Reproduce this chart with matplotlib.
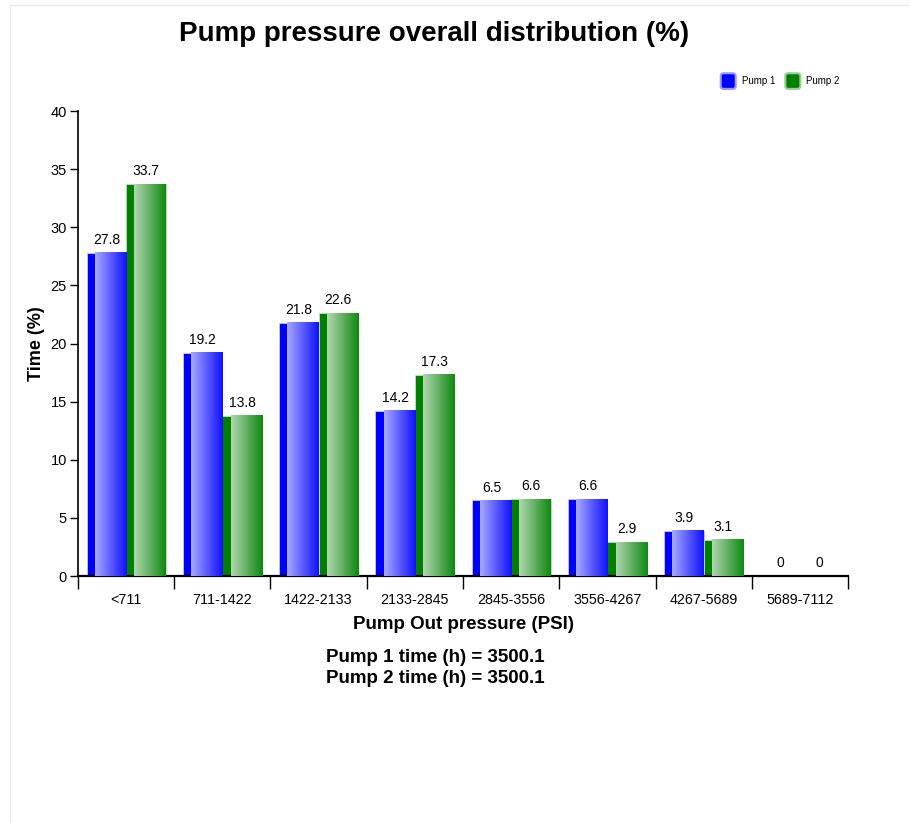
import numpy as np
import matplotlib.pyplot as plt
from matplotlib.colors import LinearSegmentedColormap
from matplotlib.patches import FancyBboxPatch, Rectangle

plt.rcParams['font.family'] = ['Liberation Sans', 'DejaVu Sans']

categories = ['<711', '711-1422', '1422-2133', '2133-2845', '2845-3556',
              '3556-4267', '4267-5689', '5689-7112']
pump1 = [27.8, 19.2, 21.8, 14.2, 6.5, 6.6, 3.9, 0]
pump2 = [33.7, 13.8, 22.6, 17.3, 6.6, 2.9, 3.1, 0]
series_names = ['Pump 1', 'Pump 2']
pump_hours = [3500.1, 3500.1]


def gradient_bars(ax, rects, dark, light):
    """Paint a solid strip on the left and a light-to-dark gradient on the rest."""
    cmap = LinearSegmentedColormap.from_list('g', [light, dark])
    grad = np.linspace(0, 1, 64).reshape(1, -1)
    for r in rects:
        x0, w, h = r.get_x(), r.get_width(), r.get_height()
        if h <= 0:
            continue
        solid = w * 0.21
        ax.imshow(grad, cmap=cmap, aspect='auto', interpolation='bilinear',
                  extent=[x0 + solid, x0 + w, 0, h], zorder=3)


fig = plt.figure(figsize=(9.1, 8.23), dpi=100)
# faint page frame
fig.patches.append(Rectangle((0.011, -0.01), 1.0, 1.004, transform=fig.transFigure,
                             fill=False, edgecolor='#ececec', linewidth=1))
ax = fig.add_axes([0.0857, 0.3001, 0.8462, 0.5650])

x = np.arange(len(categories))
w = 0.41
b1 = ax.bar(x - w / 2, pump1, w, color='#0000ff', edgecolor='#c8c8ff',
            linewidth=0.6, zorder=2)
b2 = ax.bar(x + w / 2, pump2, w, color='#008000', edgecolor='#c0e0c0',
            linewidth=0.6, zorder=2)
gradient_bars(ax, b1, '#1010ff', '#a8a8ff')
gradient_bars(ax, b2, '#108a10', '#b0d6b0')

for rects, vals in ((b1, pump1), (b2, pump2)):
    for r, v in zip(rects, vals):
        ax.text(r.get_x() + r.get_width() / 2, v + 0.5, f'{v:g}',
                ha='center', va='bottom', fontsize=10)

ax.set_xlim(-0.5, len(categories) - 0.5)
ax.set_ylim(0, 40)
ax.set_yticks(np.arange(0, 41, 5))
ax.set_xticks(np.arange(-0.5, len(categories), 1.0))
ax.set_xticklabels([])
ax.set_xticks(x, minor=True)
ax.set_xticklabels(categories, minor=True, fontsize=10.3)
ax.tick_params(axis='x', which='minor', length=0, pad=12)
ax.tick_params(axis='x', which='major', length=9, direction='out', width=1)
ax.tick_params(axis='y', length=6, direction='out', labelsize=10.5, width=1, pad=2)

for s in ('top', 'right'):
    ax.spines[s].set_visible(False)
ax.spines['left'].set_linewidth(1.2)
ax.spines['bottom'].set_linewidth(1.6)

ax.set_ylabel('Time (%)', fontsize=13, fontweight='bold', labelpad=4)
ax.set_xlabel('Pump Out pressure (PSI)', fontsize=13.5, fontweight='bold', labelpad=7)

fig.text(0.477, 0.959, 'Pump pressure overall distribution (%)', ha='center',
         va='center', fontsize=20, fontweight='bold')
fig.text(0.478, 0.2005, f'{series_names[0]} time (h) = {pump_hours[0]}', ha='center',
         va='center', fontsize=13.5, fontweight='bold')
fig.text(0.478, 0.176, f'{series_names[1]} time (h) = {pump_hours[1]}', ha='center',
         va='center', fontsize=13.5, fontweight='bold')

# legend
for i, (name, dark, light) in enumerate(zip(series_names,
                                            ['#0000ff', '#008000'],
                                            ['#9999ff', '#99cc99'])):
    lx = 0.792 + i * 0.071
    ly = 0.9015
    box = FancyBboxPatch((lx, ly - 0.0095), 0.0165, 0.019,
                         boxstyle='round,pad=0.0,rounding_size=0.003',
                         transform=fig.transFigure, facecolor=dark,
                         edgecolor=light, linewidth=1.5)
    fig.patches.append(box)
    fig.text(lx + 0.023, ly, name, ha='left', va='center', fontsize=7)

fig.savefig('out.png', dpi=100)
